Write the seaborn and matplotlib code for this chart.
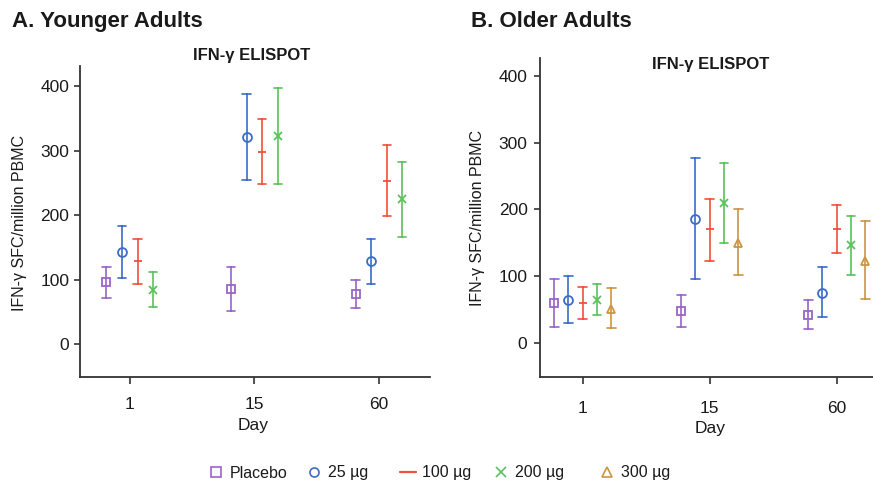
import numpy as np
import pandas as pd
import matplotlib
matplotlib.use("Agg")
import matplotlib.pyplot as plt
from matplotlib.lines import Line2D
import seaborn as sns

# ---------------- data ----------------
days = ["1", "15", "60"]
groups = ["Placebo", "25 µg", "100 µg", "200 µg", "300 µg"]
colors = ["#9B64C8", "#3B6CC6", "#F2503A", "#5BC25B", "#CC9544"]
markers = ["s", "o", "_", "x", "^"]

# A. Younger adults (no 300 µg group)
young_mean = {"Placebo": [96, 86, 78], "25 µg": [143, 322, 129],
              "100 µg": [129, 299, 254], "200 µg": [85, 323, 225]}
young_low = {"Placebo": [72, 52, 56], "25 µg": [103, 255, 94],
             "100 µg": [94, 249, 199], "200 µg": [58, 249, 167]}
young_high = {"Placebo": [120, 120, 100], "25 µg": [183, 388, 164],
              "100 µg": [164, 349, 309], "200 µg": [112, 397, 282]}

# B. Older adults
old_mean = {"Placebo": [59, 47, 42], "25 µg": [64, 186, 75], "100 µg": [59, 170, 170],
            "200 µg": [64, 210, 146], "300 µg": [51, 150, 123]}
old_low = {"Placebo": [24, 23, 20], "25 µg": [30, 96, 38], "100 µg": [36, 123, 134],
           "200 µg": [41, 150, 102], "300 µg": [22, 101, 66]}
old_high = {"Placebo": [95, 72, 64], "25 µg": [100, 277, 113], "100 µg": [84, 216, 207],
            "200 µg": [88, 269, 190], "300 µg": [82, 201, 182]}

yticks = [0, 100, 200, 300, 400]


def long_frame(mean, low, high):
    rows = []
    for g in mean:
        for i, d in enumerate(days):
            for v in (low[g][i], mean[g][i], high[g][i]):
                rows.append({"Day": d, "Group": g, "SFC": v})
    return pd.DataFrame(rows)


sns.set_style("ticks")
plt.rcParams["font.family"] = ["Liberation Sans", "DejaVu Sans"]
TXT = "#1a1a1a"
SPINE = "#333333"

fig = plt.figure(figsize=(8.73, 4.87), dpi=100)
W, H = 873, 487
axA = fig.add_axes([80 / W, 1 - 376.7 / H, 350 / W, (376.7 - 65.7) / H])
axB = fig.add_axes([540 / W, 1 - 376.7 / H, 333 / W, (376.7 - 58.3) / H])

panels = [
    (axA, long_frame(young_mean, young_low, young_high), groups[:4], 0.375, 0.067,
     (-0.40, 2.41), (-50, 432), 9.8, 3.6),
    (axB, long_frame(old_mean, old_low, old_high), groups, 0.45, 0.07,
     (-0.336, 2.286), (-51, 426.5), 12.5, 5.0),
]

for ax, df, hue_order, dodge, cap, xlim, ylim, xpad, ypad in panels:
    n = len(hue_order)
    sns.pointplot(data=df, x="Day", y="SFC", hue="Group", order=days,
                  hue_order=hue_order, palette=colors[:n], markers=markers[:n],
                  linestyles="none", estimator="median", errorbar=("pi", 100),
                  dodge=dodge, capsize=cap, err_kws={"linewidth": 1.2},
                  markersize=6.4, markeredgewidth=1.3, markerfacecolor="white",
                  zorder=3, legend=False, ax=ax)
    ax.set_xlim(*xlim)
    ax.set_ylim(*ylim)
    ax.set_yticks(yticks)
    ax.set_xlabel("")
    ax.set_ylabel("")
    sns.despine(ax=ax)
    for s in ("left", "bottom"):
        ax.spines[s].set_color(SPINE)
        ax.spines[s].set_linewidth(1.3)
    ax.tick_params(axis="x", length=5, width=1.2, color=SPINE, pad=xpad,
                   labelsize=12.5, labelcolor=TXT)
    ax.tick_params(axis="y", length=4, width=1.2, color=SPINE, pad=ypad,
                   labelsize=12.5, labelcolor=TXT)

# Panel titles
fig.text(12 / W, 1 - 27.3 / H, "A. Younger Adults", fontsize=16, fontweight="bold",
         color=TXT, ha="left", va="baseline")
fig.text(471 / W, 1 - 27.3 / H, "B. Older Adults", fontsize=16, fontweight="bold",
         color=TXT, ha="left", va="baseline")
# Sub titles
fig.text(252 / W, 1 - 60 / H, "IFN-γ ELISPOT", fontsize=12, fontweight="bold",
         color=TXT, ha="center", va="baseline")
fig.text(710.7 / W, 1 - 69 / H, "IFN-γ ELISPOT", fontsize=12, fontweight="bold",
         color=TXT, ha="center", va="baseline")
# Axis labels
fig.text(12 / W, 1 - 222.5 / H, "IFN-γ SFC/million PBMC", fontsize=11.5, rotation=90,
         color=TXT, ha="left", va="center")
fig.text(470 / W, 1 - 218 / H, "IFN-γ SFC/million PBMC", fontsize=11.5, rotation=90,
         color=TXT, ha="left", va="center")
fig.text(253 / W, 1 - 430 / H, "Day", fontsize=12.5, color=TXT, ha="center", va="baseline")
fig.text(710.5 / W, 1 - 433 / H, "Day", fontsize=12.5, color=TXT, ha="center", va="baseline")

# Legend (one entry per position)
leg_x = [208, 306, 400, 493, 599]
for g, c, m, x in zip(groups, colors, markers, leg_x):
    h = Line2D([], [], color=c, marker=m, linestyle="none" if m != "_" else "-",
               markersize=6.5 if m != "_" else 0, markeredgewidth=1.2,
               markerfacecolor="white", linewidth=1.6)
    fig.legend(handles=[h], labels=[g], loc="center left",
               bbox_to_anchor=(x / W, 1 - 473 / H), frameon=False, borderpad=0,
               borderaxespad=0, handlelength=1.0, handletextpad=0.35,
               prop={"size": 11.5}, labelcolor=TXT)

fig.savefig("out.png", dpi=100)
